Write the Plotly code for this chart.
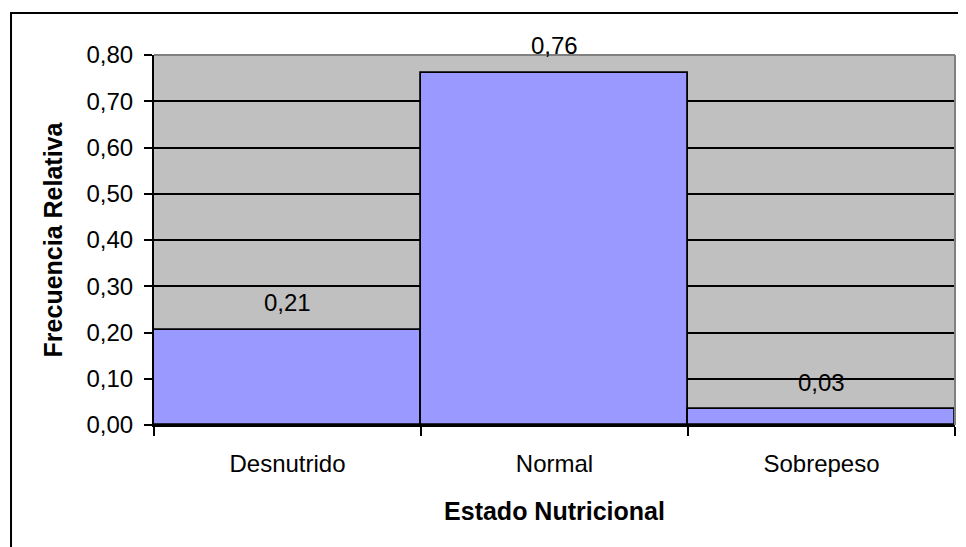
import plotly.graph_objects as go

categories = ["Desnutrido", "Normal", "Sobrepeso"]
values = [0.206, 0.762, 0.034]
labels = ["0,21", "0,76", "0,03"]
y_ticks = [0.0, 0.1, 0.2, 0.3, 0.4, 0.5, 0.6, 0.7, 0.8]
y_tick_text = ["0,00", "0,10", "0,20", "0,30", "0,40", "0,50", "0,60", "0,70", "0,80"]

FONT = "Liberation Sans, Arial, sans-serif"

fig = go.Figure()
fig.add_trace(go.Bar(
    x=categories, y=values,
    marker=dict(color="#9999FF", line=dict(color="black", width=1.8)),
    width=1.0, hoverinfo="skip",
))

for c, v, t in zip(categories, values, labels):
    fig.add_annotation(x=c, y=v, text=t, showarrow=False, yshift=27,
                       yanchor="middle", xanchor="center",
                       font=dict(family=FONT, size=24, color="black"))

# plot area border (top / right in gray)
fig.add_shape(type="line", xref="paper", yref="paper", x0=0, x1=1, y0=1, y1=1,
              line=dict(color="#808080", width=2), layer="above")
fig.add_shape(type="line", xref="paper", yref="paper", x0=1, x1=1, y0=0, y1=1,
              line=dict(color="#808080", width=2), layer="above")
# outer chart border
fig.add_shape(type="rect", xref="paper", yref="paper",
              x0=-0.1785, x1=1.05, y0=-0.36, y1=1.1135,
              line=dict(color="black", width=2), fillcolor="rgba(0,0,0,0)", layer="above")

fig.update_layout(
    width=958, height=539,
    margin=dict(l=146, r=11, t=47, b=122),
    paper_bgcolor="white", plot_bgcolor="#C0C0C0",
    bargap=0, showlegend=False,
    font=dict(family=FONT, color="black"),
    xaxis=dict(
        type="category", range=[-0.5, 2.5], tickson="boundaries",
        ticks="outside", ticklen=9, tickwidth=1.5, tickcolor="black",
        showline=True, linecolor="black", linewidth=2, showgrid=False,
        tickfont=dict(family=FONT, size=24), ticklabelstandoff=16,
        title=dict(text="<b>Estado Nutricional</b>", font=dict(family=FONT, size=25), standoff=27),
        fixedrange=True,
    ),
    yaxis=dict(
        range=[0, 0.8], tickvals=y_ticks, ticktext=y_tick_text,
        ticks="outside", ticklen=8, tickwidth=1.5, tickcolor="black",
        showline=True, linecolor="black", linewidth=2,
        showgrid=True, gridcolor="black", gridwidth=1.5, zeroline=False,
        tickfont=dict(family=FONT, size=24), ticklabelstandoff=6,
        title=dict(text="<b>Frecuencia Relativa</b>", font=dict(family=FONT, size=25), standoff=17),
        fixedrange=True,
    ),
)

fig.write_html("out.html")
